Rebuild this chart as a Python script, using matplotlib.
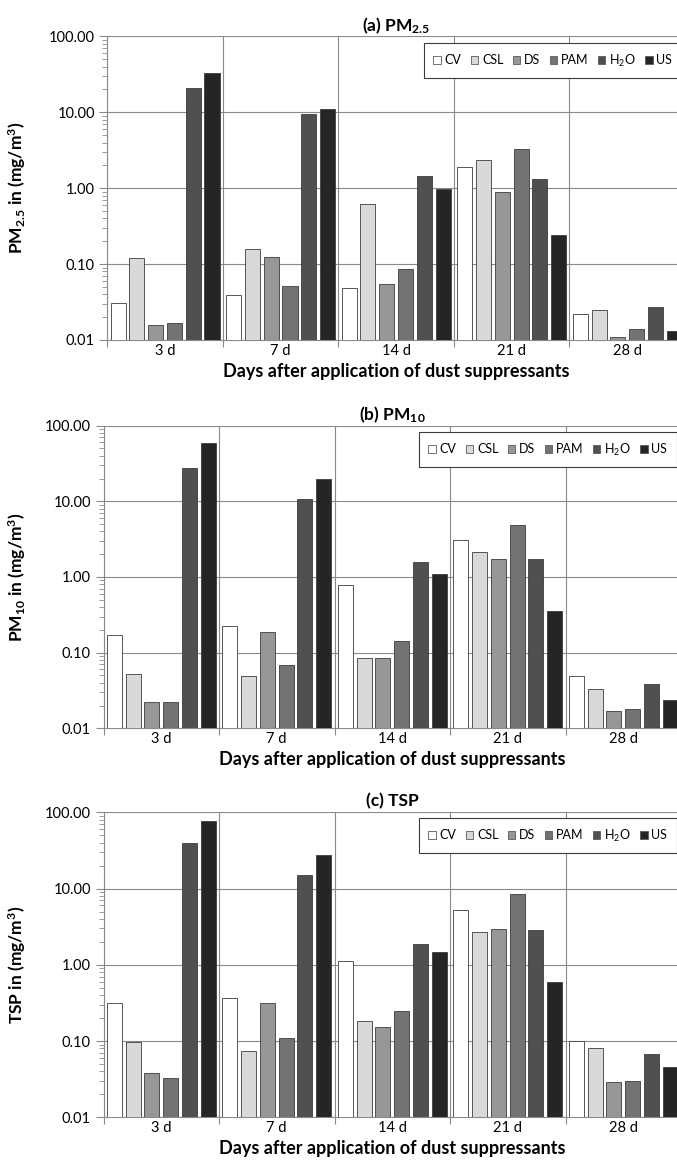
import matplotlib
matplotlib.use("Agg")
import matplotlib.pyplot as plt
from matplotlib.patches import Patch
from matplotlib.ticker import LogLocator, NullFormatter, FuncFormatter, FixedLocator
import numpy as np

plt.rcParams['font.family'] = ['Lato', 'DejaVu Sans']
plt.rcParams['mathtext.fontset'] = 'custom'
plt.rcParams['mathtext.rm'] = 'Lato'
plt.rcParams['mathtext.bf'] = 'Lato:bold'
plt.rcParams['mathtext.default'] = 'rm'

# Sampling days and treatments
days = ["3 d", "7 d", "14 d", "21 d", "28 d"]
treatments = ["CV", "CSL", "DS", "PAM", "H$_2$O", "US"]
colors = ["#ffffff", "#d9d9d9", "#979797", "#737373", "#505050", "#252525"]

# Concentrations in mg/m3, one row per treatment (CV, CSL, DS, PAM, H2O, US)
pm25 = [
    [0.031, 0.039, 0.048, 1.92, 0.022],
    [0.119, 0.156, 0.625, 2.35, 0.025],
    [0.016, 0.123, 0.055, 0.88, 0.011],
    [0.017, 0.051, 0.086, 3.28, 0.014],
    [21.1, 9.4, 1.45, 1.34, 0.027],
    [32.9, 10.9, 0.97, 0.24, 0.013],
]
pm10 = [
    [0.173, 0.227, 0.785, 3.13, 0.049],
    [0.053, 0.049, 0.084, 2.11, 0.033],
    [0.022, 0.187, 0.084, 1.73, 0.017],
    [0.022, 0.068, 0.144, 4.93, 0.018],
    [27.7, 10.8, 1.59, 1.73, 0.038],
    [59.8, 19.5, 1.11, 0.35, 0.024],
]
tsp = [
    [0.313, 0.371, 1.11, 5.18, 0.099],
    [0.096, 0.073, 0.185, 2.70, 0.080],
    [0.038, 0.313, 0.153, 2.92, 0.029],
    [0.033, 0.109, 0.248, 8.41, 0.030],
    [39.2, 14.9, 1.88, 2.83, 0.068],
    [76.2, 27.6, 1.46, 0.60, 0.045],
]

W, H = 677, 1167
fig = plt.figure(figsize=(W / 100, H / 100), dpi=100)
fig.patch.set_facecolor("white")

grid_c = "#8a8a8a"
panels = [
    (r"(a) PM$_{\mathbf{2.5}}$", r"PM$_{\mathbf{2.5}}$ in (mg/m$^{\mathbf{3}}$)", pm25,
     (107.3, 36.4, 685.0, 340.0), (0.548, 0.978)),
    (r"(b) PM$_{\mathbf{10}}$", r"PM$_{\mathbf{10}}$ in (mg/m$^{\mathbf{3}}$)", pm10,
     (103.5, 425.7, 681.0, 728.3), (0.546, 0.979)),
    ("(c) TSP", r"TSP in (mg/m$^{\mathbf{3}}$)", tsp,
     (103.5, 812.3, 681.0, 1117.3), (0.546, 0.981)),
]

pitch = 0.1625
bar_w = 0.13
x = np.arange(len(days))

for title, ylabel, data, (l, t, r, b), leg_pos in panels:
    ax = fig.add_axes([l / W, 1 - b / H, (r - l) / W, (b - t) / H])
    ax.set_yscale("log")
    for j, (vals, col) in enumerate(zip(data, colors)):
        ax.bar(x + (j - 2.5) * pitch, vals, width=bar_w, color=col,
               edgecolor="#3c3c3c", linewidth=0.6, zorder=3)
    ax.set_ylim(0.01, 100)
    ax.set_xlim(-0.5, len(days) - 0.5)

    # category separators and labels
    ax.xaxis.set_major_locator(FixedLocator(np.arange(-0.5, len(days), 1.0)))
    ax.xaxis.set_minor_locator(FixedLocator(x))
    ax.xaxis.set_major_formatter(NullFormatter())
    ax.xaxis.set_minor_formatter(FuncFormatter(lambda v, p: days[int(round(v))]))
    ax.tick_params(axis="x", which="major", direction="out", length=5, color=grid_c)
    ax.tick_params(axis="x", which="minor", length=0, labelsize=10.5, pad=3)

    ax.yaxis.set_major_locator(LogLocator(base=10, numticks=10))
    ax.yaxis.set_minor_locator(LogLocator(base=10, subs=np.arange(2, 10), numticks=20))
    ax.yaxis.set_major_formatter(FuncFormatter(lambda v, p: f"{v:.2f}"))
    ax.yaxis.set_minor_formatter(NullFormatter())
    ax.tick_params(axis="y", which="major", direction="out", length=6, color=grid_c,
                   labelsize=10.5, pad=3)
    ax.tick_params(axis="y", which="minor", direction="out", length=3.5, color=grid_c)

    ax.grid(True, which="major", axis="both", color=grid_c, linewidth=0.8, zorder=0)
    ax.set_axisbelow(True)
    for s in ("top", "right"):
        ax.spines[s].set_visible(False)
    for s in ("left", "bottom"):
        ax.spines[s].set_color(grid_c)
        ax.spines[s].set_linewidth(0.8)

    ax.set_title(title, fontweight="bold", fontsize=12.5, pad=4)
    ax.set_ylabel(ylabel, fontweight="bold", fontsize=12.5)
    ax.yaxis.set_label_coords((28 - l) / (r - l), 0.5)
    ax.set_xlabel("Days after application of dust suppressants",
                  fontweight="bold", fontsize=13, labelpad=3.5)

    handles = [Patch(facecolor=c, edgecolor="#5a5a5a", linewidth=0.6) for c in colors]
    leg = ax.legend(handles, treatments, ncol=6, loc="upper left",
                    bbox_to_anchor=leg_pos, frameon=True, fancybox=False,
                    edgecolor="#3c3c3c", framealpha=1, fontsize=9,
                    handlelength=0.6, handleheight=0.6, handletextpad=0.3,
                    columnspacing=0.75, borderpad=0.75, borderaxespad=0)
    leg.get_frame().set_linewidth(0.8)

fig.savefig("out.png", dpi=100, facecolor="white")
